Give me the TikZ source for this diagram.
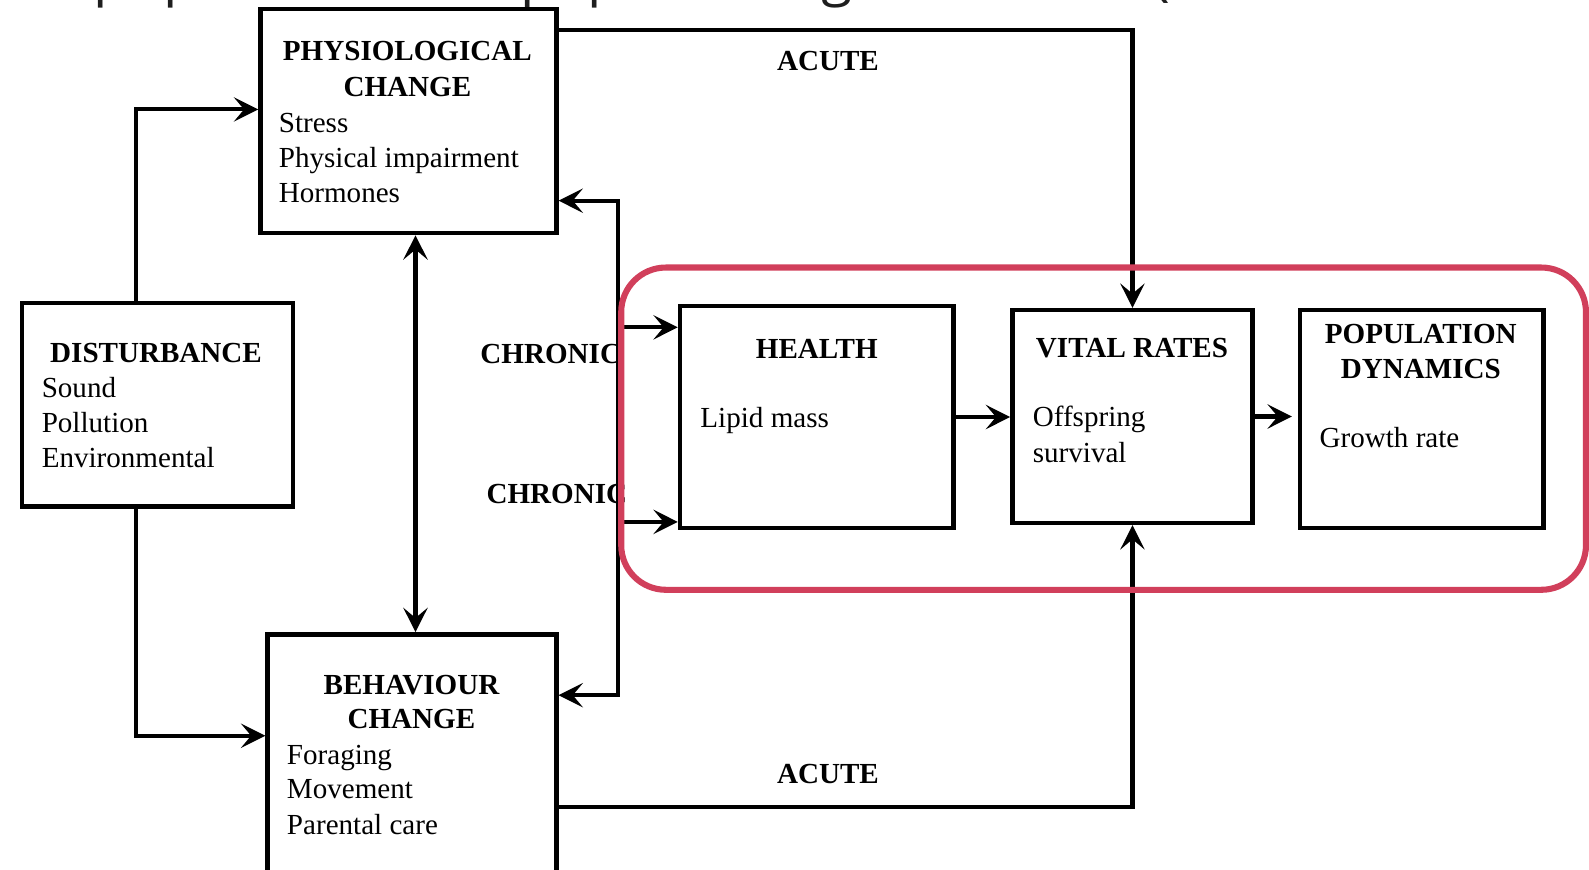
\documentclass[tikz,border=0pt]{standalone}
\usepackage{fontspec}
\setmainfont{Liberation Serif}
\newfontfamily\bannerfont{Open Sans}
\usetikzlibrary{arrows.meta}
\definecolor{highlight}{RGB}{209,63,91}
\definecolor{bannerink}{RGB}{30,30,30}

\tikzset{
  box/.style={draw, line width=4.4pt, inner sep=0pt, line join=miter},
  tipstyle/.style={-{Stealth[length=24pt,width=24pt,inset=10pt]}},
  link/.style={line width=4pt, line join=miter},
  conn/.style={link, tipstyle},
  head/.style={font=\fontsize{28.7}{34.5}\selectfont\bfseries, anchor=base, inner sep=0pt},
  item/.style={font=\fontsize{28.7}{34.5}\selectfont, anchor=base west, inner sep=0pt},
  tag/.style={font=\fontsize{28.7}{34.5}\selectfont\bfseries, anchor=base, inner sep=0pt},
  bannerglyph/.style={font=\fontsize{56}{60}\selectfont\bannerfont, text=bannerink, anchor=base west, inner sep=0pt},
  ring/.style={draw=highlight, line width=6pt, rounded corners=44pt},
}

\begin{document}
\begin{tikzpicture}[x=1pt, y=-1pt]
\useasboundingbox (0,0) rectangle (1568,858);
\clip (0,0) rectangle (1568,858);

% descenders of the heading line above the chart
\node[bannerglyph] (g1) at (92,-5) {p};
\node[bannerglyph] (g2) at (161,-5) {p};
\node[bannerglyph] (g3) at (513,-5) {p};
\node[bannerglyph] (g4) at (580,-5) {p};
\node[bannerglyph] (g5) at (810,-5) {g};
\node[bannerglyph] (g6) at (1138,-5) {(};

% boxes
\node[box, minimum width=292pt, minimum height=221pt] (phys) at (403,119.5) {};
\node[box, minimum width=267.5pt, minimum height=201pt] (dist) at (155.25,399.5) {};
\node[box, minimum width=285pt, minimum height=274pt] (behav) at (406.5,763) {};
\node[box, minimum width=270pt, minimum height=219pt] (health) at (806,411.5) {};
\node[box, minimum width=237pt, minimum height=210pt] (vital) at (1117.5,411) {};
\node[box, minimum width=240pt, minimum height=215pt] (pop) at (1403,413.5) {};

% box texts
\node[head] (physT1) at (402,60) {PHYSIOLOGICAL};
\node[head] (physT2) at (402,95.5) {CHANGE};
\node[item] (physA) at (275,130.5) {Stress};
\node[item] (physB) at (275,165) {Physical impairment};
\node[item] (physC) at (275,199.5) {Hormones};

\node[head] (distT) at (154,358) {DISTURBANCE};
\node[item] (distA) at (41,392) {Sound};
\node[item] (distB) at (41,427) {Pollution};
\node[item] (distC) at (41,461) {Environmental};

\node[head] (behavT1) at (406,685) {BEHAVIOUR};
\node[head] (behavT2) at (406,719) {CHANGE};
\node[item] (behavA) at (283,754) {Foraging};
\node[item] (behavB) at (283,788) {Movement};
\node[item] (behavC) at (283,823) {Parental care};

\node[head] (healthT) at (806,353.5) {HEALTH};
\node[item] (healthA) at (691,422) {Lipid mass};

\node[head] (vitalT) at (1117,352.5) {VITAL RATES};
\node[item] (vitalA) at (1019,421) {Offspring};
\node[item] (vitalB) at (1019,456) {survival};

\node[head] (popT1) at (1402,338.5) {POPULATION};
\node[head] (popT2) at (1402,373.5) {DYNAMICS};
\node[item] (popA) at (1302,442) {Growth rate};

% connector labels
\node[tag] (acuteTop) at (817,69.5) {ACUTE};
\node[tag] (acuteBot) at (817,773.5) {ACUTE};
\node[tag, anchor=base east] (chronA) at (613,358.5) {CHRONIC};
\node[tag, anchor=base east] (chronB) at (619,496.5) {CHRONIC};

% connectors
\draw[conn] ([xshift=-21.25pt]dist.north) |- ([yshift=11.5pt]phys.west);
\draw[conn] ([xshift=-21.25pt]dist.south) |- ([yshift=37pt]behav.west);
\draw[link, {Stealth[length=24pt,width=24pt,inset=10pt]}-{Stealth[length=24pt,width=24pt,inset=10pt]}]
  ([xshift=7pt]phys.south) -- ([xshift=3.5pt]behav.north);
\draw[conn] ([yshift=89.5pt]phys.east) -| (vital.north);
\draw[conn] ([yshift=-33pt]behav.east) -| (vital.south);

\coordinate (cTop) at (610,198);
\coordinate (cBot) at (610,686);
\coordinate (cH1) at (610,323);
\coordinate (cH2) at (610,515);
\draw[link, {Stealth[length=24pt,width=24pt,inset=10pt]}-{Stealth[length=24pt,width=24pt,inset=10pt]}]
  (cTop -| phys.east) -- (cTop) -- (cBot) -- (cBot -| behav.east);
\draw[conn] (cH1) -- (cH1 -| health.west);
\draw[conn] (cH2) -- (cH2 -| health.west);

\draw[conn] (health.east) -- (health.east -| vital.west);
\draw[conn, shorten >=6pt] (vital.east) -- (vital.east -| pop.west);

% highlighted model chain
\draw[ring] (613,264) rectangle (1565,582);
\end{tikzpicture}
\end{document}
